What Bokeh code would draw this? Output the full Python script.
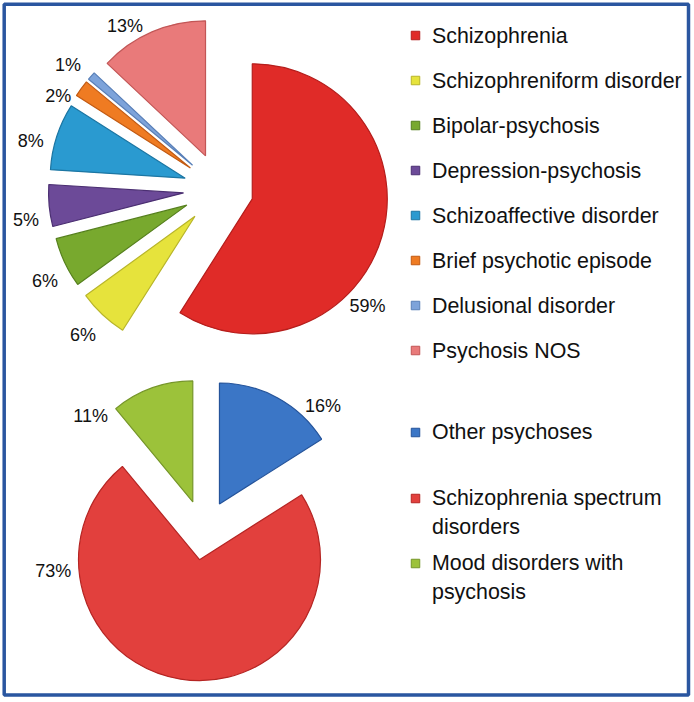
import math
from bokeh.plotting import figure
from bokeh.models import Range1d, ColumnDataSource
from bokeh.core.properties import value
from bokeh.embed import file_html
from bokeh.resources import INLINE

# ---------------- data ----------------
top_categories = ["Schizophrenia", "Schizophreniform disorder", "Bipolar-psychosis",
                  "Depression-psychosis", "Schizoaffective disorder",
                  "Brief psychotic episode", "Delusional disorder", "Psychosis NOS"]
top_values = [59, 6, 6, 5, 8, 2, 1, 13]

bottom_categories = ["Other psychoses", "Schizophrenia spectrum\ndisorders",
                     "Mood disorders with\npsychosis"]
bottom_values = [16, 73, 11]

# ---------------- styles / layout ----------------
top_colors = ["#E02B28", "#E6E33C", "#78A92E", "#6C4A98", "#2A9AD0",
              "#EF7B22", "#7DA3DA", "#E97A7A"]
top_edges = ["#B51E1C", "#B8B52A", "#56801E", "#4B2F72", "#1C76A3",
             "#C25A12", "#5A80B8", "#C25656"]
bottom_colors = ["#3B76C6", "#E2403D", "#9CC23A"]
bottom_edges = ["#24539A", "#B52523", "#76962A"]

FONT = "Liberation Sans"
W, H = 694, 702           # data units == image pixels

TOP_CENTER = (219.6, 189.0)     # image pixel coords
TOP_R = 135.0
TOP_EXPLODE = [33.5, 36.7, 36.7, 36.7, 36.7, 36.7, 36.7, 36.7]
TOP_LABEL_SHIFT = [22.0, 0.0, -2.3, -3.4, -3.5, -5.9, -2.2, -6.7]
TOP_LABEL_DIST = [187.6, 200.2, 197.3, 196.4, 195.5, 187.1, 196.2, 189.5]

BOT_CENTER = (203.3, 532.0)
BOT_R = 121.0
BOT_EXPLODE = [32.5, 27.5, 32.5]
BOT_LABEL_SHIFT = [14.4, 66.5, -24.3]
BOT_LABEL_DIST = [174.2, 155.4, 162.5]

p = figure(width=W, height=H,
           x_range=Range1d(0, W), y_range=Range1d(-H, 0),
           output_backend="svg", toolbar_location=None,
           x_axis_location=None, y_axis_location=None, min_border=0)
p.grid.visible = False
p.outline_line_color = None
p.background_fill_color = "white"
p.border_fill_color = "white"


def draw_pie(center, radius, values, colors, edges, explode, shifts, dists):
    total = float(sum(values))
    cx, cy = center[0], -center[1]
    xs, ys, starts, ends = [], [], [], []
    lx, ly, txt = [], [], []
    cum = 0.0
    for v, e, sh, d in zip(values, explode, shifts, dists):
        t1 = cum / total * 360.0
        t2 = (cum + v) / total * 360.0
        cum += v
        mid = math.radians((t1 + t2) / 2.0)
        xs.append(cx + e * math.sin(mid))
        ys.append(cy + e * math.cos(mid))
        starts.append(math.radians(90.0 - t2))
        ends.append(math.radians(90.0 - t1))
        la = mid + math.radians(sh)
        lx.append(cx + d * math.sin(la))
        ly.append(cy + d * math.cos(la))
        txt.append(f"{v}%")
    src = ColumnDataSource(dict(x=xs, y=ys, s=starts, e=ends, c=colors, lc=edges))
    p.wedge(x="x", y="y", radius=radius, start_angle="s", end_angle="e",
            direction="anticlock", fill_color="c", line_color="lc",
            line_width=1.2, source=src)
    lsrc = ColumnDataSource(dict(x=lx, y=ly, t=txt))
    p.text(x="x", y="y", text="t", source=lsrc, text_font=value(FONT),
           text_font_size="18px", text_align="center", text_baseline="middle",
           text_color="#111111")


draw_pie(TOP_CENTER, TOP_R, top_values, top_colors, top_edges,
         TOP_EXPLODE, TOP_LABEL_SHIFT, TOP_LABEL_DIST)
draw_pie(BOT_CENTER, BOT_R, bottom_values, bottom_colors, bottom_edges,
         BOT_EXPLODE, BOT_LABEL_SHIFT, BOT_LABEL_DIST)

# ---------------- legends ----------------
MARK_X, TEXT_X = 415.0, 431.5
top_rows = [-(35.0 + 45.0 * i) for i in range(len(top_categories))]
p.scatter(x=[MARK_X] * len(top_categories), y=top_rows, marker="square", size=8.5,
          fill_color=top_colors, line_color=top_edges, line_width=1)
p.text(x=[TEXT_X] * len(top_categories), y=top_rows, text=top_categories,
       text_font=value(FONT), text_font_size="21.4px", text_align="left",
       text_baseline="middle", text_color="#111111")

bot_row_centers = [432.0, 498.0, 563.0]
p.scatter(x=[MARK_X] * 3, y=[-c for c in bot_row_centers], marker="square", size=8.5,
          fill_color=bottom_colors, line_color=bottom_edges, line_width=1)
p.text(x=[TEXT_X] * 3, y=[-(c - 12.6) for c in bot_row_centers], text=bottom_categories,
       text_font=value(FONT), text_font_size="21.4px", text_align="left",
       text_baseline="top", text_line_height=1.2, text_color="#111111")

# ---------------- frame ----------------
p.quad(left=[3.7], right=[688.0], top=[-3.7], bottom=[-694.5],
       fill_color=None, line_color="#2A56A0", line_width=3.5)

open("out.html", "w").write(file_html(p, INLINE))
